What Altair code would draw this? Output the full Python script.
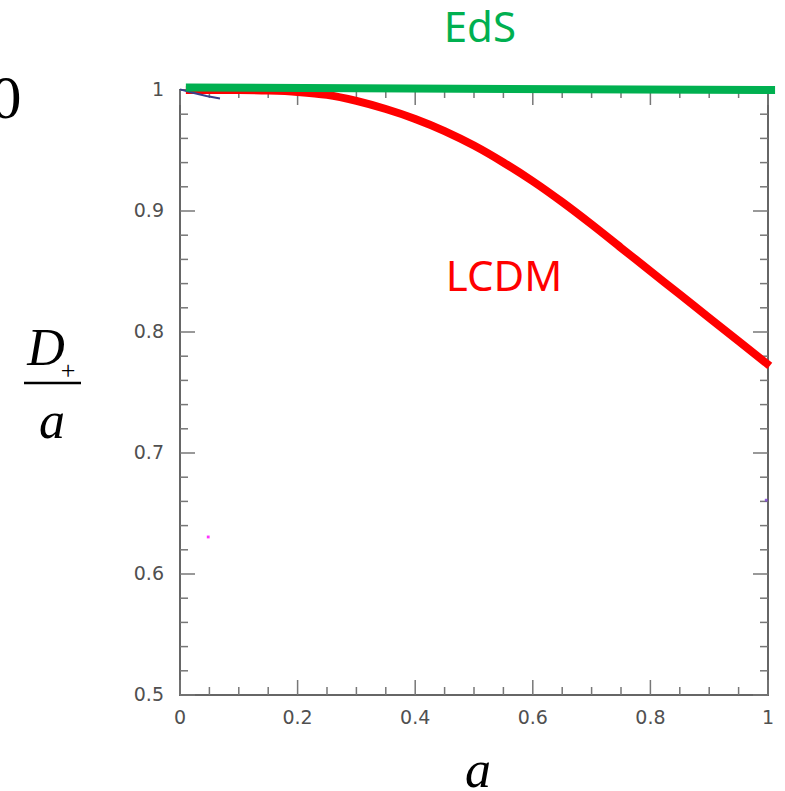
import altair as alt
import pandas as pd

# ---- data ----
lcdm_a = [0.01, 0.05, 0.10, 0.15, 0.20, 0.25, 0.30, 0.35, 0.40, 0.45, 0.50,
          0.55, 0.60, 0.65, 0.70, 0.75, 0.80, 0.85, 0.90, 0.95, 1.003]
lcdm_d = [1.000, 1.000, 0.9999, 0.9995, 0.9984, 0.9960, 0.9910, 0.9843, 0.9761, 0.9661, 0.9541,
          0.9401, 0.9246, 0.9074, 0.8889, 0.8696, 0.8503, 0.8310, 0.8117, 0.7924, 0.7720]

eds_a = [0.01, 1.012]
eds_d = [1.002, 1.000]

hook_a = [0.0, 0.02, 0.045, 0.068]
hook_d = [1.0005, 0.998, 0.995, 0.993]

stray_a = [0.048, 0.997]
stray_d = [0.6306, 0.661]
stray_c = ["#ff00ff", "#7a3fd0"]

x_major = [0, 0.2, 0.4, 0.6, 0.8, 1.0]
x_labels = ["0", "0.2", "0.4", "0.6", "0.8", "1"]
y_major = [0.5, 0.6, 0.7, 0.8, 0.9, 1.0]
y_labels = ["0.5", "0.6", "0.7", "0.8", "0.9", "1"]
x_minor = [round(i * 0.05, 2) for i in range(21) if i % 4]
y_minor = [round(0.5 + i * 0.02, 2) for i in range(26) if i % 5]

labels_txt = ["EdS", "LCDM"]
labels_a = [0.510, 0.551]
labels_d = [1.0504, 0.8446]
labels_c = ["#00b050", "#ff0000"]

W, H = 588, 605
TICK = "#777777"
LABEL_FONT = "DejaVu Sans"

xs = alt.Scale(domain=[0, 1], nice=False, zero=False)
ys = alt.Scale(domain=[0.5, 1], nice=False, zero=False)

df_l = pd.DataFrame({"a": lcdm_a, "d": lcdm_d})
df_e = pd.DataFrame({"a": eds_a, "d": eds_d})
df_h = pd.DataFrame({"a": hook_a, "d": hook_d})
df_s = pd.DataFrame({"a": stray_a, "d": stray_d, "c": stray_c})
df_t = pd.DataFrame({"a": labels_a, "d": labels_d, "t": labels_txt, "c": labels_c})
df_xM = pd.DataFrame({"a": x_major, "t": x_labels})
df_xm = pd.DataFrame({"a": x_minor})
df_yM = pd.DataFrame({"d": y_major, "t": y_labels})
df_ym = pd.DataFrame({"d": y_minor})

def X():
    return alt.X("a:Q", scale=xs, axis=None)

def Y():
    return alt.Y("d:Q", scale=ys, axis=None)

def xt(df, y0, y1):
    return alt.Chart(df).mark_rule(color=TICK, strokeWidth=1.5).encode(
        x=X(), y=alt.value(y0), y2=alt.value(y1))

def yt(df, x0, x1):
    return alt.Chart(df).mark_rule(color=TICK, strokeWidth=1.5).encode(
        y=Y(), x=alt.value(x0), x2=alt.value(x1))

ticks = [
    xt(df_xM, H, H - 15), xt(df_xm, H, H - 8),
    xt(df_xM, 0, 15), xt(df_xm, 0, 8),
    yt(df_yM, 0, 15), yt(df_ym, 0, 8),
    yt(df_yM, W, W - 15), yt(df_ym, W, W - 8),
]

xlab = alt.Chart(df_xM).mark_text(font=LABEL_FONT, fontSize=19, color="#505050",
                                  align="center", baseline="middle").encode(
    x=X(), y=alt.value(H + 23), text="t:N")
ylab = alt.Chart(df_yM).mark_text(font=LABEL_FONT, fontSize=19, color="#505050",
                                  align="right", baseline="middle").encode(
    y=Y(), x=alt.value(-16), text="t:N")

red = alt.Chart(df_l).mark_line(color="#ff0000", strokeWidth=8, interpolate="monotone").encode(
    x=X(), y=Y())

hook = alt.Chart(df_h).mark_line(color="#3a3f8a", strokeWidth=2).encode(x=X(), y=Y())

stray = alt.Chart(df_s).mark_square(size=8, opacity=0.8).encode(
    x=X(), y=Y(), color=alt.Color("c:N", scale=None))

green = alt.Chart(df_e).mark_line(color="#00b050", strokeWidth=8).encode(x=X(), y=Y())

names = alt.Chart(df_t).mark_text(font="Noto Sans", fontSize=42, baseline="middle",
                                  align="center").encode(
    x=X(), y=Y(), text="t:N", color=alt.Color("c:N", scale=None))

# math-style axis labels (pixel-placed annotations)
serif = "Liberation Serif"
def txt(s, x, y, size, italic=True, baseline="alphabetic"):
    return alt.Chart(pd.DataFrame({"s": [s]})).mark_text(
        font=serif, fontSize=size, fontStyle="italic" if italic else "normal",
        align="center", baseline=baseline, color="#000000").encode(
        x=alt.value(x), y=alt.value(y), text="s:N")

frac_line = alt.Chart(pd.DataFrame({"s": [0]})).mark_rule(color="#000000", strokeWidth=2.5).encode(
    x=alt.value(-156), x2=alt.value(-99), y=alt.value(293))

decor = [
    txt("0", -174, 28, 62, italic=False),
    txt("D", -134, 275, 52),
    txt("+", -112, 281, 26, italic=False, baseline="middle"),
    frac_line,
    txt("a", -128, 348, 52),
    txt("a", 298, 697, 52),
]

chart = alt.layer(*ticks, xlab, ylab, red, hook, stray, green, names, *decor).properties(
    width=W, height=H,
    autosize=alt.AutoSizeParams(type="none"),
    padding={"left": 180, "top": 90, "right": 17, "bottom": 96},
    background="white",
).configure_view(stroke="#666666", strokeWidth=2)

chart.save("out.html", embed_options={"renderer": "svg", "actions": False})
